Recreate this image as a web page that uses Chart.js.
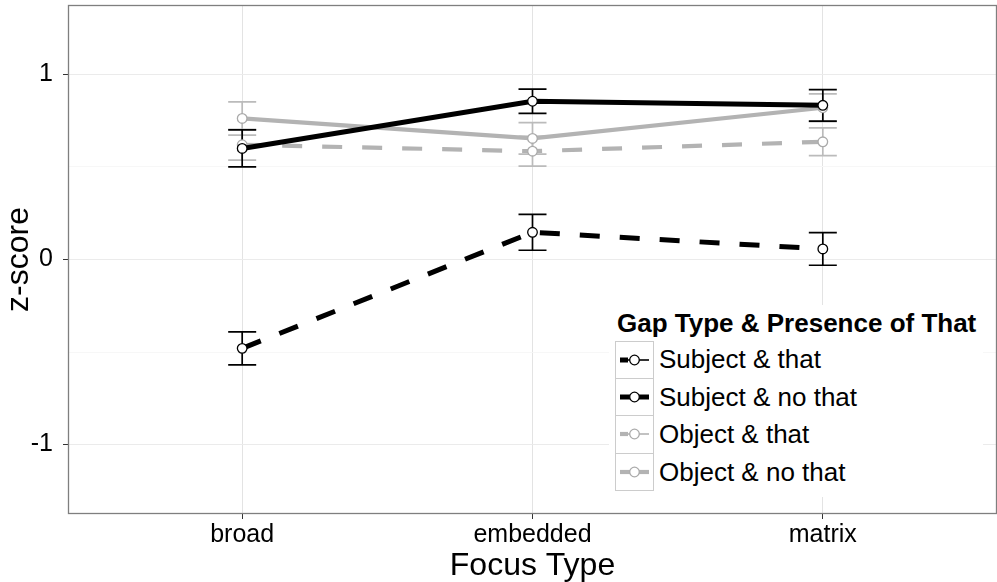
<!DOCTYPE html>
<html>
<head>
<meta charset="utf-8">
<script src="https://cdn.jsdelivr.net/npm/chart.js@4"></script>
<style>
  body { margin: 0; background: #fff; }
  #wrap { position: relative; width: 997px; height: 582px; }
  #legend { position: absolute; left: 609px; top: 305px; padding: 1px 7px 6px 6px; background: #fff; font-family: "Liberation Sans", Arial, sans-serif; color: #000; }
  #legend .title { font-weight: bold; font-size: 26px; margin-left: 2px; height: 35px; line-height: 34px; white-space: nowrap; }
  #legend .row { display: flex; align-items: center; height: 37.5px; }
  #legend .key { width: 37px; height: 36.5px; border: 1px solid #cccccc; border-top-width: 0; }
  #legend .row.first .key { border-top-width: 1px; height: 35.5px; }
  #legend .lab { font-size: 26px; margin-left: 5px; white-space: nowrap; }
</style>
</head>
<body>
<div id="wrap">
  <canvas id="myChart" width="997" height="582"></canvas>
  <div id="legend"></div>
</div>
<script>
const categories = ['broad', 'embedded', 'matrix'];
const seriesNames = ['Subject & that', 'Subject & no that', 'Object & that', 'Object & no that'];
const subjThat = [-0.48, 0.147, 0.057];
const subjThatErr = [0.089, 0.097, 0.088];
const subjNoThat = [0.60, 0.855, 0.833];
const subjNoThatErr = [0.10, 0.065, 0.085];
const objThat = [0.62, 0.585, 0.636];
const objThatErr = [0.083, 0.08, 0.075];
const objNoThat = [0.762, 0.654, 0.82];
const objNoThatErr = [0.09, 0.085, 0.075];
const yTicks = [-1, 0, 1];

const black = '#000000';
const grey = '#b3b3b3';

function pts(vals, errs) {
    return vals.map((v, i) => ({ x: i + 1, y: v, err: errs[i] }));
}

function ds(label, vals, errs, color, dashed) {
    return {
        label: label,
        data: pts(vals, errs),
        borderColor: color,
        borderWidth: color === black ? 5 : 4.2,
        borderDash: dashed ? [20, 20] : [],
        borderCapStyle: 'butt',
        pointRadius: 4.8,
        pointBorderWidth: 1.3,
        pointBackgroundColor: '#ffffff',
        pointBorderColor: color === black ? black : '#aaaaaa',
        errColor: color === black ? black : '#bbbbbb',
        tension: 0
    };
}

// black series first so they sit on top of the grey ones
const datasets = [
    ds(seriesNames[0], subjThat, subjThatErr, black, true),
    ds(seriesNames[1], subjNoThat, subjNoThatErr, black, false),
    ds(seriesNames[2], objThat, objThatErr, grey, true),
    ds(seriesNames[3], objNoThat, objNoThatErr, grey, false)
];

const errorBars = {
    id: 'errorBars',
    beforeDatasetsDraw(chart) {
        const c = chart.ctx, xs = chart.scales.x, ys = chart.scales.y;
        c.save();
        for (let d = chart.data.datasets.length - 1; d >= 0; d--) {
            const set = chart.data.datasets[d];
            c.strokeStyle = set.errColor;
            c.lineWidth = 1.7;
            set.data.forEach(p => {
                const x = xs.getPixelForValue(p.x);
                const y1 = ys.getPixelForValue(p.y + p.err);
                const y2 = ys.getPixelForValue(p.y - p.err);
                c.beginPath();
                c.moveTo(x, y1); c.lineTo(x, y2);
                c.moveTo(x - 14, y1); c.lineTo(x + 14, y1);
                c.moveTo(x - 14, y2); c.lineTo(x + 14, y2);
                c.stroke();
            });
        }
        c.restore();
    }
};

const panelBorder = {
    id: 'panelBorder',
    afterDraw(chart) {
        const a = chart.chartArea, c = chart.ctx;
        c.save();
        c.strokeStyle = '#7f7f7f';
        c.lineWidth = 1.3;
        c.strokeRect(a.left + 0.5, a.top + 0.5, a.right - a.left - 1, a.bottom - a.top - 1);
        c.restore();
    }
};

function noPad(s) {
    s.paddingTop = 0; s.paddingBottom = 0; s.paddingLeft = 0; s.paddingRight = 0;
}

const ctx = document.getElementById('myChart').getContext('2d');
const myChart = new Chart(ctx, {
    type: 'line',
    data: { datasets: datasets },
    plugins: [errorBars, panelBorder],
    options: {
        responsive: false,
        animation: false,
        layout: { autoPadding: false, padding: { top: 5, right: 0, left: 0, bottom: 0 } },
        plugins: { legend: { display: false }, tooltip: { enabled: false } },
        scales: {
            x: {
                type: 'linear',
                min: 0.4,
                max: 3.6,
                afterBuildTicks(s) { s.ticks = categories.map((c, i) => ({ value: i + 1 })); },
                afterFit(s) { s.height = 68; noPad(s); },
                ticks: {
                    callback: (v) => categories[v - 1],
                    color: '#000',
                    padding: 1,
                    font: { family: 'Liberation Sans', size: 25 }
                },
                grid: { color: '#e3e3e3', lineWidth: 1, tickLength: 5, tickColor: '#333' },
                border: { display: false },
                title: {
                    display: true,
                    text: 'Focus Type',
                    color: '#000',
                    font: { family: 'Liberation Sans', size: 32 },
                    padding: { top: 0, bottom: -3 }
                }
            },
            y: {
                min: -1.375,
                max: 1.375,
                afterBuildTicks(s) {
                    s.ticks = [-1, -0.5, 0, 0.5, 1].map(v => ({ value: v }));
                },
                afterFit(s) { s.width = 68; noPad(s); },
                ticks: {
                    callback: (v) => yTicks.includes(v) ? String(v) : '',
                    color: '#000',
                    padding: 10,
                    font: { family: 'Liberation Sans', size: 25 }
                },
                grid: {
                    color: (c) => yTicks.includes(c.tick.value) ? '#ebebeb' : '#f7f7f7',
                    lineWidth: 1,
                    tickLength: 5,
                    tickColor: (c) => yTicks.includes(c.tick.value) ? '#333' : 'rgba(0,0,0,0)'
                },
                border: { display: false },
                title: {
                    display: true,
                    text: 'z-score',
                    color: '#000',
                    font: { family: 'Liberation Sans', size: 32 },
                    padding: { top: 0, bottom: 0 }
                }
            }
        }
    }
});

// legend built as html so it can sit inside the panel
const legendKeys = [
    { color: black, dashed: true },
    { color: black, dashed: false },
    { color: grey, dashed: true },
    { color: grey, dashed: false }
];
let html = '<div class="title">Gap Type &amp; Presence of That</div>';
seriesNames.forEach((name, i) => {
    const k = legendKeys[i];
    const pc = k.color === black ? black : '#aaaaaa';
    const w = k.color === black ? 5 : 4.2;
    const thick = k.dashed
        ? '<line x1="4" y1="18" x2="12" y2="18" stroke="' + k.color + '" stroke-width="' + w + '"/>'
        : '<line x1="4" y1="18" x2="33" y2="18" stroke="' + k.color + '" stroke-width="' + w + '"/>';
    html += '<div class="row' + (i === 0 ? ' first' : '') + '"><div class="key"><svg width="37" height="36">' +
        '<line x1="4" y1="18" x2="33" y2="18" stroke="' + k.color + '" stroke-width="1.6"/>' + thick +
        '<circle cx="18.5" cy="18" r="4.8" fill="#fff" stroke="' + pc + '" stroke-width="1.3"/>' +
        '</svg></div><div class="lab">' + name.replace('&', '&amp;') + '</div></div>';
});
document.getElementById('legend').innerHTML = html;
</script>
</body>
</html>
